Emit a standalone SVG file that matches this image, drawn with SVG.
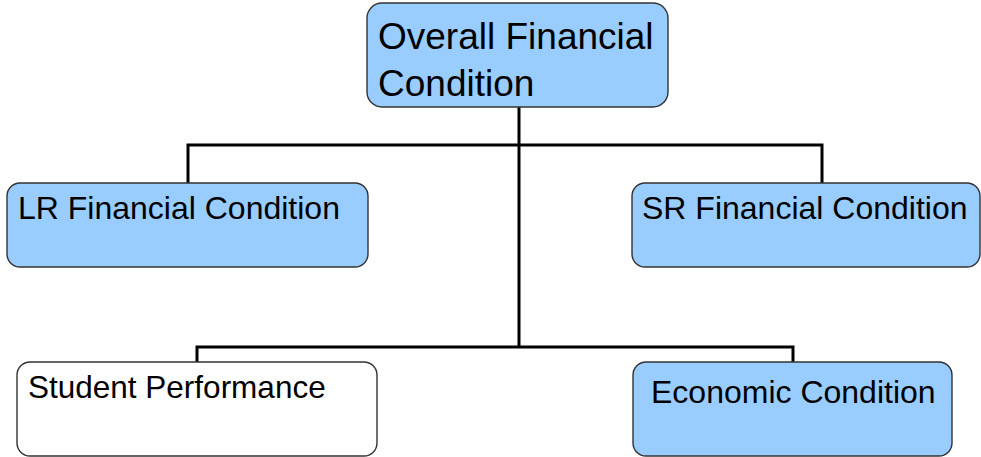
<svg xmlns="http://www.w3.org/2000/svg" width="981" height="457" viewBox="0 0 981 457">
<style>
.box{stroke:#333;stroke-width:1.4}
.blue{fill:#99ccff}
.white{fill:#ffffff}
.t{font-family:"Liberation Sans",Arial,sans-serif;fill:#000}
.conn{fill:none;stroke:#000;stroke-width:3;stroke-linejoin:miter}
</style>
<rect width="981" height="457" fill="#fff"/>
<g id="connectors">
<polyline class="conn" points="188,183 188,145 822,145 822,183"/>
<line class="conn" x1="519" y1="107" x2="519" y2="347"/>
<polyline class="conn" points="197,362 197,347 793,347 793,362"/>
</g>
<g id="overall">
<rect class="box blue" x="367" y="3" width="301" height="104" rx="15"/>
<text class="t" x="378" y="49" font-size="37">Overall Financial</text>
<text class="t" x="378" y="96" font-size="37">Condition</text>
</g>
<g id="lr">
<rect class="box blue" x="7" y="183" width="361" height="84" rx="13"/>
<text class="t" x="18" y="219" font-size="32">LR Financial Condition</text>
</g>
<g id="sr">
<rect class="box blue" x="632" y="183" width="348" height="84" rx="13"/>
<text class="t" x="642" y="219" font-size="32">SR Financial Condition</text>
</g>
<g id="student">
<rect class="box white" x="17" y="362" width="360" height="94" rx="13"/>
<text class="t" x="28" y="398" font-size="31.5">Student Performance</text>
</g>
<g id="economic">
<rect class="box blue" x="633" y="362" width="319" height="94" rx="13"/>
<text class="t" x="651" y="403" font-size="32">Economic Condition</text>
</g>
</svg>
